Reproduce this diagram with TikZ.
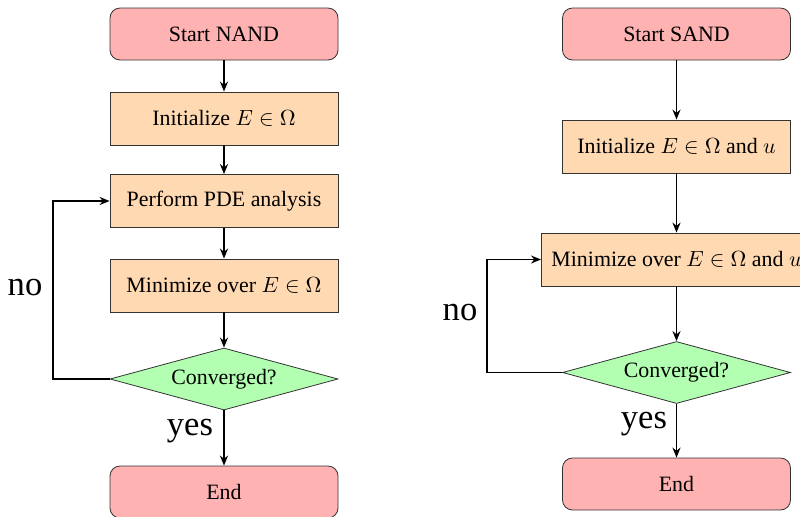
\documentclass[tikz,border=0pt]{standalone}
\usepackage{fontspec}
\setmainfont{Liberation Serif}
\usetikzlibrary{shapes.geometric,arrows.meta}
\begin{document}
\begin{tikzpicture}[x=0.5pt,y=-0.5pt,
  base/.style={draw=black!80, line width=0.4pt, inner sep=5pt, font=\fontsize{10.95}{13}\selectfont},
  term/.style={base, rectangle, rounded corners=5pt, fill=red!30, minimum width=114pt, minimum height=26pt},
  proc/.style={base, rectangle, fill=orange!30, minimum width=114pt, minimum height=26.5pt},
  dec/.style={base, diamond, aspect=3.7, inner sep=0pt, fill=green!30, minimum width=114pt, minimum height=31pt},
  conn/.style={line width=0.8pt, -{Stealth[length=5pt,width=4pt]}},
  loop/.style={line width=0.8pt, -{Stealth[length=5pt,width=4pt]}},
  lab/.style={font=\fontsize{17.28}{20}\selectfont, inner sep=0pt}]
\useasboundingbox (0,0) rectangle (800,516);
% left: NAND
\node[term] (startL) at (224,34) {Start NAND};
\node[proc] (initL) at (224,118.5) {Initialize $E\in\Omega$};
\node[proc] (pdeL) at (224,201) {Perform PDE analysis};
\node[proc] (minL) at (224,285.5) {Minimize over $E\in\Omega$};
\node[dec] (convL) at (224,379) {Converged?};
\node[term] (endL) at (224,492) {End};
\coordinate (loopL) at (53,379);
\draw[conn] (startL) -- (initL);
\draw[conn] (initL) -- (pdeL);
\draw[conn] (pdeL) -- (minL);
\draw[conn] (minL) -- (convL);
\draw[conn] (convL) -- (endL);
\draw[loop] (convL.west) -- (loopL) |- (pdeL.west);
\node[lab] (noL) at (25,288) {no};
\node[lab] (yesL) at (190,431) {yes};
% right: SAND
\node[term] (startR) at (676.5,34) {Start SAND};
\node[proc] (initR) at (676.5,146.5) {Initialize $E\in\Omega$ and $u$};
\node[proc] (minR) at (676.5,259.5) {Minimize over $E\in\Omega$ and $u$};
\node[dec] (convR) at (676.5,372.5) {Converged?};
\node[term] (endR) at (676.5,484) {End};
\coordinate (loopR) at (487,372.5);
\draw[conn] (startR) -- (initR);
\draw[conn] (initR) -- (minR);
\draw[conn] (minR) -- (convR);
\draw[conn] (convR) -- (endR);
\draw[loop] (convR.west) -- (loopR) |- (minR.west);
\node[lab] (noR) at (460,313) {no};
\node[lab] (yesR) at (644,424) {yes};
\end{tikzpicture}
\end{document}
